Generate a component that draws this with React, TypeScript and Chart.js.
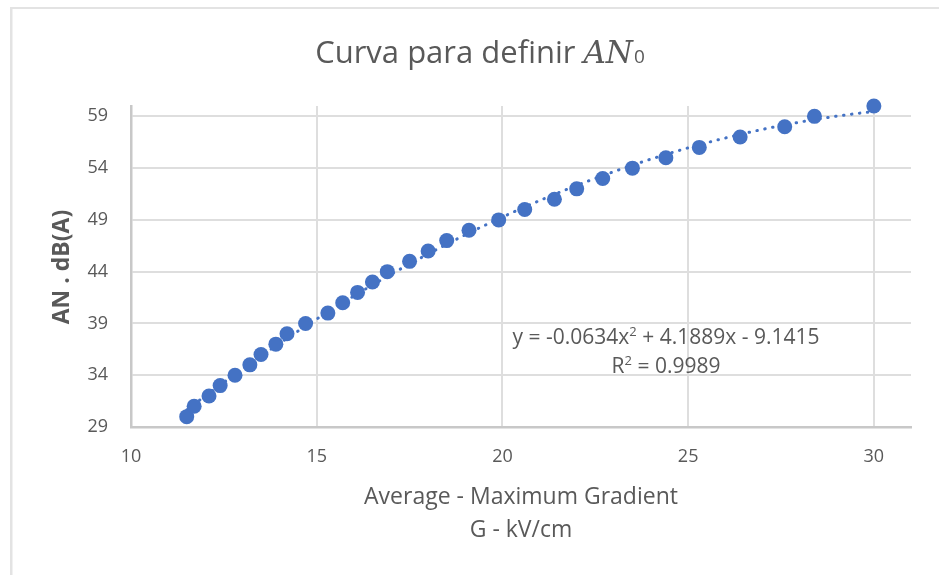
import React, { useEffect, useRef } from "react";
import { Chart, registerables } from "chart.js";

Chart.register(...registerables);

// ---- data ----
const gradientKVcm = [
  11.5, 11.7, 12.1, 12.4, 12.8, 13.2, 13.5, 13.9, 14.2, 14.7, 15.3, 15.7, 16.1,
  16.5, 16.9, 17.5, 18.0, 18.5, 19.1, 19.9, 20.6, 21.4, 22.0, 22.7, 23.5, 24.4,
  25.3, 26.4, 27.6, 28.4, 30.0,
];
const noiseDBA = [
  30, 31, 32, 33, 34, 35, 36, 37, 38, 39, 40, 41, 42, 43, 44, 45, 46, 47, 48,
  49, 50, 51, 52, 53, 54, 55, 56, 57, 58, 59, 60,
];
const xTicks = [10, 15, 20, 25, 30];
const yTicks = [29, 34, 39, 44, 49, 54, 59];
// polynomial trendline printed on the chart: y = a x^2 + b x + c
const trendA = -0.0634;
const trendB = 4.1889;
const trendC = -9.1415;
const trendR2 = "0.9989";

const titleText = "Curva para definir ";
const titleMath = "AN";
const titleSub = "0";
const yTitle = "AN . dB(A)";
const xTitleLines = ["Average - Maximum Gradient", "G - kV/cm"];

const TEXT = "#595959";
const BLUE = "#4472C4";
const SANS = "'Open Sans', Lato, sans-serif";

function trendPoints() {
  const pts: { x: number; y: number }[] = [];
  const x0 = gradientKVcm[0];
  const x1 = gradientKVcm[gradientKVcm.length - 1];
  const n = 120;
  for (let i = 0; i <= n; i++) {
    const x = x0 + ((x1 - x0) * i) / n;
    pts.push({ x, y: trendA * x * x + trendB * x + trendC });
  }
  return pts;
}

const textPlugin = {
  id: "texts",
  beforeDraw(chart: any) {
    const ctx = chart.ctx;
    ctx.save();
    ctx.fillStyle = "#e3e3e3";
    ctx.fillRect(10, 7, 939, 2);
    ctx.fillRect(10, 7, 2.5, 575);
    ctx.restore();
  },
  afterDraw(chart: any) {
    const ctx = chart.ctx;
    const area = chart.chartArea;
    ctx.save();
    ctx.fillStyle = TEXT;
    ctx.textBaseline = "alphabetic";
    ctx.textAlign = "left";

    // title
    const f1 = `31px ${SANS}`;
    const f2 = `italic 31px 'DejaVu Serif', 'Liberation Serif', serif`;
    const f3 = `19px ${SANS}`;
    ctx.font = f1;
    const w1 = ctx.measureText(titleText).width;
    ctx.font = f2;
    const w2 = ctx.measureText(titleMath).width;
    ctx.font = f3;
    const w3 = ctx.measureText(titleSub).width;
    let tx = 480 - (w1 + w2 + w3 + 1) / 2;
    const tb = 63;
    ctx.font = f1;
    ctx.fillText(titleText, tx, tb);
    tx += w1;
    ctx.font = f2;
    ctx.fillText(titleMath, tx, tb);
    tx += w2 + 1;
    ctx.font = f3;
    ctx.fillText(titleSub, tx, tb);

    // y axis title
    ctx.save();
    ctx.translate(62, 267);
    ctx.rotate(-Math.PI / 2);
    ctx.font = `bold 23px ${SANS}`;
    ctx.textAlign = "center";
    ctx.textBaseline = "middle";
    ctx.fillText(yTitle, 0, 0);
    ctx.restore();

    // x axis title
    ctx.textAlign = "center";
    ctx.textBaseline = "middle";
    ctx.font = `23px ${SANS}`;
    const cx = (area.left + area.right) / 2;
    ctx.fillText(xTitleLines[0], cx, 497);
    ctx.fillText(xTitleLines[1], cx, 530);

    // trendline equation
    ctx.textBaseline = "alphabetic";
    ctx.textAlign = "left";
    const ef = `21px ${SANS}`;
    const sf = `13px ${SANS}`;
    const partA = `y = ${trendA}x`;
    const partB = ` + ${trendB}x - ${Math.abs(trendC)}`;
    ctx.font = ef;
    const wa = ctx.measureText(partA).width;
    const wb = ctx.measureText(partB).width;
    ctx.font = sf;
    const ws = ctx.measureText("2").width;
    const ecx = 666;
    let ex = ecx - (wa + ws + wb) / 2;
    const eb = 344;
    ctx.font = ef;
    ctx.fillText(partA, ex, eb);
    ex += wa;
    ctx.font = sf;
    ctx.fillText("2", ex, eb - 8);
    ex += ws;
    ctx.font = ef;
    ctx.fillText(partB, ex, eb);

    const rA = "R";
    const rB = ` = ${trendR2}`;
    const wra = ctx.measureText(rA).width;
    const wrb = ctx.measureText(rB).width;
    let rx = ecx - (wra + ws + wrb) / 2;
    const rb = 373;
    ctx.fillText(rA, rx, rb);
    rx += wra;
    ctx.font = sf;
    ctx.fillText("2", rx, rb - 8);
    rx += ws;
    ctx.font = ef;
    ctx.fillText(rB, rx, rb);

    ctx.restore();
  },
};

export default function App() {
  const ref = useRef<HTMLCanvasElement | null>(null);

  useEffect(() => {
    if (!ref.current) return;
    const points = gradientKVcm.map((x, i) => ({ x, y: noiseDBA[i] }));
    const chart = new Chart(ref.current, {
      type: "scatter",
      data: {
        datasets: [
          {
            label: "AN",
            data: points,
            backgroundColor: BLUE,
            borderColor: BLUE,
            pointRadius: 7.5,
            pointHoverRadius: 7.5,
            borderWidth: 0,
            clip: false,
          } as any,
          {
            label: "Trend",
            data: trendPoints(),
            showLine: true,
            pointRadius: 0,
            borderColor: BLUE,
            borderWidth: 3,
            borderDash: [0.5, 7.5],
            borderCapStyle: "round",
            fill: false,
            clip: false,
          } as any,
        ],
      },
      options: {
        responsive: false,
        animation: false,
        devicePixelRatio: 1,
        layout: { padding: { left: 0, right: 28, top: 106, bottom: 0 } },
        plugins: {
          legend: { display: false },
          tooltip: { enabled: false },
          title: { display: false },
        },
        scales: {
          x: {
            type: "linear",
            min: 10,
            max: 31,
            afterBuildTicks: (s: any) => {
              s.ticks = xTicks.map((v) => ({ value: v }));
            },
            afterFit: (s: any) => {
              s.height = 575 - 427;
            },
            grid: { color: "#dedede", lineWidth: 2, drawTicks: false },
            border: { color: "#c8c8c8", width: 2.5 },
            ticks: {
              color: TEXT,
              font: { family: SANS, size: 18 },
              padding: 19,
              maxRotation: 0,
            },
          },
          y: {
            type: "linear",
            min: 29,
            max: 60,
            afterBuildTicks: (s: any) => {
              s.ticks = yTicks.map((v) => ({ value: v }));
            },
            afterFit: (s: any) => {
              s.width = 131;
            },
            grid: { color: "#dedede", lineWidth: 2, drawTicks: false },
            border: { color: "#c8c8c8", width: 2.5 },
            ticks: {
              color: TEXT,
              font: { family: SANS, size: 18 },
              padding: 23,
            },
          },
        },
      },
      plugins: [textPlugin],
    });
    return () => chart.destroy();
  }, []);

  return (
    <div style={{ position: "fixed", left: 0, top: 0, width: 939, height: 575, background: "#fff" }}>
      <canvas ref={ref} width={939} height={575} style={{ width: 939, height: 575, display: "block" }} />
    </div>
  );
}
